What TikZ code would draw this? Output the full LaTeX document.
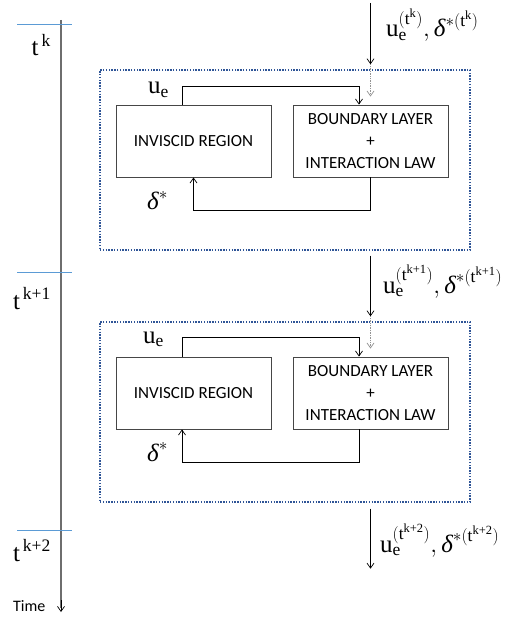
\documentclass[tikz,border=0pt]{standalone}
\usepackage{amsmath}
\usepackage{fontspec}
\setmainfont{Liberation Serif}
\newfontfamily\boxfont{Carlito}
\usetikzlibrary{calc,arrows.meta}

\definecolor{tickblue}{RGB}{91,155,213}
\definecolor{frameblue}{RGB}{47,85,151}
\definecolor{axisgray}{RGB}{110,110,110}
\definecolor{boxgray}{RGB}{70,70,70}

% time level, edge velocity and displacement thickness at a time level
\newcommand{\tlab}[1]{\text{t}^{\,\text{#1}}}
\newcommand{\uelab}[1]{\text{u}_{\text{e}}^{(\text{t}^{\text{#1}})}}
\newcommand{\dslab}[1]{\text{\itshape δ}^{*(\text{t}^{\text{#1}})}}

\begin{document}
\begin{tikzpicture}[x=1pt,y=-1pt,
    >={Straight Barb[length=5pt,width=7pt]},
    solver/.style={draw=boxgray,line width=0.9pt,minimum width=155pt,minimum height=72pt,
      inner sep=0pt,align=center,font=\boxfont\fontsize{17}{22}\selectfont},
    stage/.style={draw=frameblue,line width=1.4pt,dash pattern=on 1.4pt off 1.4pt,
      minimum width=370pt,minimum height=180pt,inner sep=0pt},
    flow/.style={->,line width=0.7pt},
    carry/.style={->,gray!85,densely dotted,line width=0.7pt},
    lab/.style={inner sep=0pt,font=\fontsize{25}{29}\selectfont}]
      \useasboundingbox (0,0) rectangle (530,617);
      % time axis
      \draw[axisgray,line width=1.4pt] (61,20) -- (61,608);
      \draw[->,line width=0.7pt] (61,600) -- (61,612);
      \node[anchor=base west,inner sep=0pt,font=\boxfont\fontsize{16}{18}\selectfont] (time) at (13,611) {Time};
      \foreach \y/\b/\s in {25/56/k, 272/309/k+1, 530/561/k+2} {
        \draw[tickblue,line width=1pt] (17,\y) -- (72,\y);
        \node[lab,anchor=base east] at (51,\b) {$\tlab{\s}$};
      }
      % first time step
      \node[stage] (frame1) at (285,160) {};
      \node[solver] (inv1) at (193.5,141) {INVISCID REGION};
      \node[solver] (bl1) at (370.5,141) {BOUNDARY LAYER\\+\\INTERACTION LAW};
      \draw[flow] ([xshift=-11.5pt]inv1.north) -- ++(0,-18) -| ([xshift=-11.5pt]bl1.north);
      \draw[flow] (bl1.south) -- ++(0,33) -| (inv1.south);
      \node[lab,anchor=base west] (ue1) at (148,94) {$\text{u}_{\text{e}}$};
      \node[lab,anchor=base west] (ds1) at (147,210) {$\text{\itshape δ}^{*}$};
      % second time step
      \node[stage] (frame2) at (285,412) {};
      \node[solver] (inv2) at (193.5,393) {INVISCID REGION};
      \node[solver] (bl2) at (370.5,393) {BOUNDARY LAYER\\+\\INTERACTION LAW};
      \draw[flow] ([xshift=-11.5pt]inv2.north) -- ++(0,-19) -| ([xshift=-11.5pt]bl2.north);
      \draw[flow] ([xshift=-11.5pt]bl2.south) -- ++(0,33) -| ([xshift=-11.5pt]inv2.south);
      \node[lab,anchor=base west] (ue2) at (143,343) {$\text{u}_{\text{e}}$};
      \node[lab,anchor=base west] (ds2) at (147,461) {$\text{\itshape δ}^{*}$};
      % values handed from one step to the next
      \coordinate (in0) at (370.5,3);
      \draw[flow] (in0) -- ([yshift=5pt]frame1.north -| bl1.north);
      \draw[carry] ([yshift=5pt]frame1.north -| bl1.north) -- ([yshift=8pt]bl1.north);
      \draw[flow] ([yshift=-5pt]frame1.south -| bl1.south) -- ([yshift=5pt]frame2.north -| bl2.north);
      \draw[carry] ([yshift=5pt]frame2.north -| bl2.north) -- ([yshift=8pt]bl2.north);
      \draw[flow] ([yshift=-6pt]frame2.south -| bl2.south) -- ++(0,60);
      \node[lab,anchor=base west] (out1) at (386,37) {$\uelab{k},\dslab{k}$};
      \node[lab,anchor=base west] (out2) at (383,293) {$\uelab{k+1},\dslab{k+1}$};
      \node[lab,anchor=base west] (out3) at (380,552) {$\uelab{k+2},\dslab{k+2}$};
\end{tikzpicture}
\end{document}
